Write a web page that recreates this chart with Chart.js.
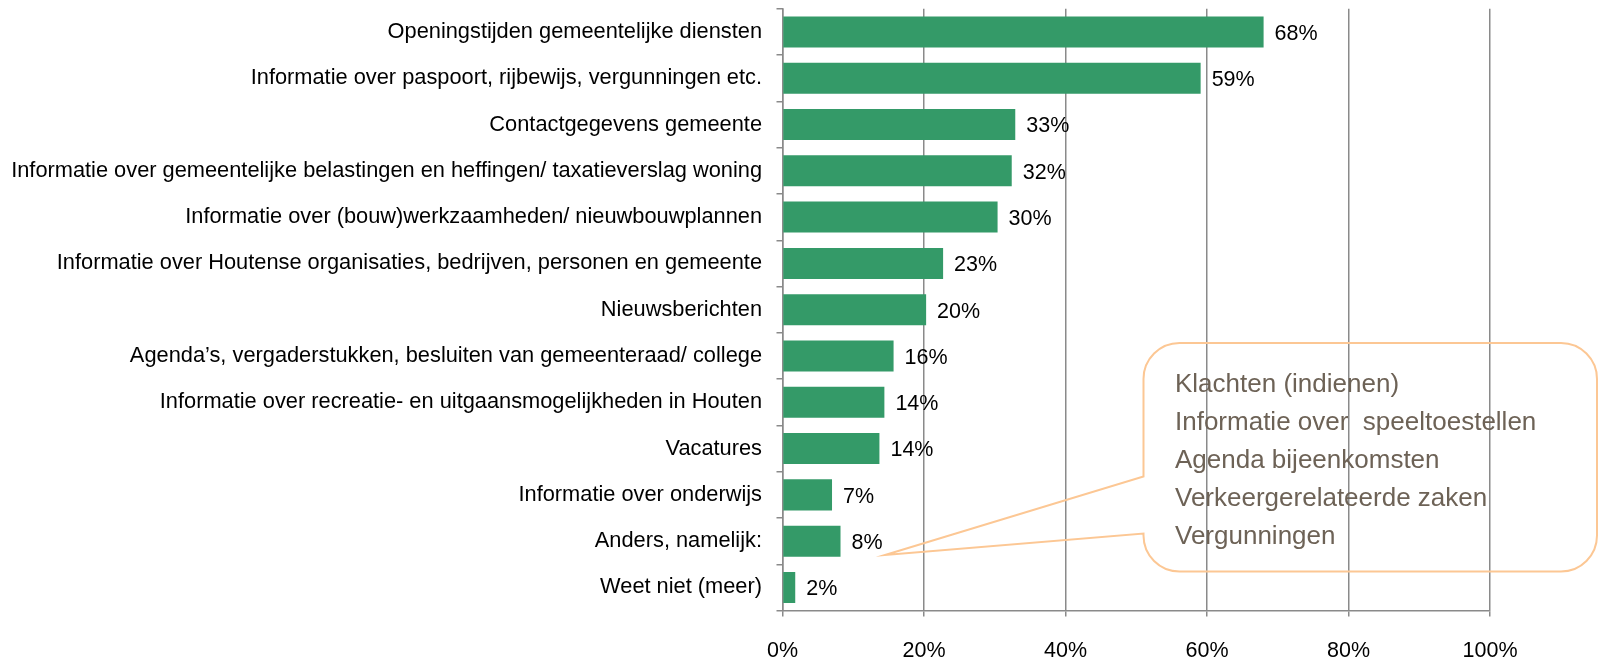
<!DOCTYPE html>
<html><head><meta charset="utf-8">
<script src="https://cdn.jsdelivr.net/npm/chart.js@4.4.1/dist/chart.umd.min.js"></script>
<style>html,body{margin:0;padding:0;background:#fff;overflow:hidden}canvas{display:block}</style>
</head><body>
<canvas id="c" width="1602" height="659"></canvas>
<script>
const categories = [
  'Openingstijden gemeentelijke diensten',
  'Informatie over paspoort, rijbewijs, vergunningen etc.',
  'Contactgegevens gemeente',
  'Informatie over gemeentelijke belastingen en heffingen/ taxatieverslag woning',
  'Informatie over (bouw)werkzaamheden/ nieuwbouwplannen',
  'Informatie over Houtense organisaties, bedrijven, personen en gemeente',
  'Nieuwsberichten',
  'Agenda\u2019s, vergaderstukken, besluiten van gemeenteraad/ college',
  'Informatie over recreatie- en uitgaansmogelijkheden in Houten',
  'Vacatures',
  'Informatie over onderwijs',
  'Anders, namelijk:',
  'Weet niet (meer)'
];
const values = [68.0, 59.1, 32.9, 32.4, 30.4, 22.7, 20.3, 15.7, 14.4, 13.7, 7.0, 8.2, 1.8];
const valueLabels = ['68%', '59%', '33%', '32%', '30%', '23%', '20%', '16%', '14%', '14%', '7%', '8%', '2%'];
const xTickLabels = ['0%', '20%', '40%', '60%', '80%', '100%'];
const calloutLines = [
  'Klachten (indienen)',
  'Informatie over  speeltoestellen',
  'Agenda bijeenkomsten',
  'Verkeergerelateerde zaken',
  'Vergunningen'
];

const FAMILY = "'Liberation Sans', Arial, sans-serif";
const GRID = '#8a8a8a';

const valueLabelPlugin = {
  id: 'valueLabels',
  afterDatasetsDraw(chart) {
    const ctx = chart.ctx;
    const meta = chart.getDatasetMeta(0);
    ctx.save();
    ctx.font = '21.5px ' + FAMILY;
    ctx.fillStyle = '#000';
    ctx.textAlign = 'left';
    ctx.textBaseline = 'middle';
    meta.data.forEach((bar, i) => ctx.fillText(valueLabels[i], bar.x + 11, bar.y + 2));
    ctx.restore();
  }
};

const calloutPlugin = {
  id: 'callout',
  afterDraw(chart) {
    const ctx = chart.ctx;
    const L = 1143.5, T = 343, R = 1597, B = 571.5, r = 36;
    const y1 = 476.5, y2 = 533.5, tipX = 885, tipY = 555;
    ctx.save();
    ctx.strokeStyle = '#fcc794';
    ctx.lineWidth = 2;
    ctx.beginPath();
    ctx.moveTo(L + r, T);
    ctx.lineTo(R - r, T);
    ctx.arcTo(R, T, R, T + r, r);
    ctx.lineTo(R, B - r);
    ctx.arcTo(R, B, R - r, B, r);
    ctx.lineTo(L + r, B);
    ctx.arcTo(L, B, L, B - r, r);
    ctx.lineTo(L, y2);
    ctx.lineTo(tipX, tipY);
    ctx.lineTo(L, y1);
    ctx.lineTo(L, T + r);
    ctx.arcTo(L, T, L + r, T, r);
    ctx.closePath();
    ctx.stroke();
    ctx.font = '26px ' + FAMILY;
    ctx.fillStyle = '#6d6256';
    ctx.textAlign = 'left';
    ctx.textBaseline = 'alphabetic';
    calloutLines.forEach((t, i) => ctx.fillText(t, 1175, 392 + i * 38));
    ctx.restore();
  }
};

new Chart(document.getElementById('c'), {
  type: 'bar',
  data: {
    labels: categories,
    datasets: [{
      data: values,
      backgroundColor: '#349a68',
      borderWidth: 0,
      barPercentage: 0.67,
      categoryPercentage: 1
    }]
  },
  options: {
    indexAxis: 'y',
    responsive: false,
    animation: false,
    devicePixelRatio: 1,
    layout: { padding: { top: 8.8, right: 112, left: 0, bottom: 0 } },
    plugins: { legend: { display: false }, tooltip: { enabled: false } },
    scales: {
      x: {
        min: 0, max: 100,
        ticks: {
          stepSize: 20,
          padding: 22,
          color: '#000',
          font: { family: FAMILY, size: 21.5 },
          callback: (v, i) => xTickLabels[i]
        },
        grid: { color: GRID, lineWidth: 1.5, tickLength: 6, drawTicks: true },
        border: { display: true, color: GRID, width: 1.5 },
        afterFit: (s) => { s.height = 48.4; s.paddingLeft = 0; s.paddingRight = 0; }
      },
      y: {
        ticks: {
          autoSkip: false,
          padding: 14.5,
          color: '#000',
          font: { family: FAMILY, size: 21.8 }
        },
        grid: { drawOnChartArea: false, offset: true, tickLength: 6, color: GRID, lineWidth: 1.5 },
        border: { display: true, color: GRID, width: 1.5 },
        afterFit: (s) => { s.width = 782.5; s.paddingTop = 0; s.paddingBottom = 0; }
      }
    }
  },
  plugins: [valueLabelPlugin, calloutPlugin]
});
</script>
</body></html>
